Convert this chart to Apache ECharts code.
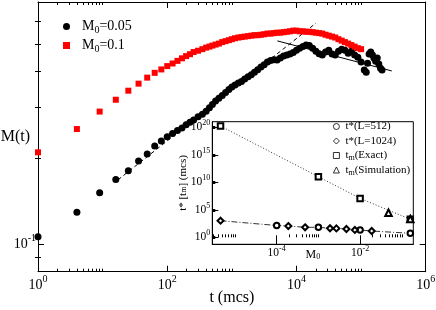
<!DOCTYPE html>
<html><head><meta charset="utf-8">
<script src="https://cdn.jsdelivr.net/npm/echarts@6.0.0/dist/echarts.min.js"></script>
<style>html,body{margin:0;padding:0;background:#fff}#c{width:436px;height:310px}</style>
</head><body><div id="c"></div>
<script>
// ---------- main plot data ----------
const t_M005 = [1,4,9,16,25,36,49,64,81,100,121,144,169,196,225,256,300,350,400,450,500,560,630,710,800,900,1000,1120,1260,1410,1580,1780,2000,2240,2510,2820,3160,3550,3980,4470,5010,5620,6310,7080,7940,8910,10000,11200,12600,14100,15800,17800,20000,22400,25100,28200,31600,35500,39800,44700,50100,56200,63100,70800,79400,89100,100000,112000,120000,126000,133000,141000,150000,158000,168000,178000,188000,200000,211000];
const M_M005 = [0.106,0.129,0.151,0.168,0.180,0.195,0.206,0.220,0.229,0.237,0.243,0.249,0.254,0.261,0.266,0.271,0.278,0.284,0.291,0.299,0.307,0.316,0.323,0.330,0.338,0.346,0.353,0.359,0.365,0.369,0.377,0.384,0.390,0.398,0.406,0.415,0.423,0.432,0.437,0.440,0.439,0.446,0.453,0.457,0.461,0.466,0.475,0.483,0.489,0.495,0.493,0.483,0.471,0.462,0.457,0.468,0.475,0.461,0.457,0.471,0.479,0.475,0.464,0.471,0.457,0.449,0.432,0.405,0.398,0.428,0.461,0.468,0.457,0.446,0.435,0.446,0.425,0.411,0.405];
const t_M01 = [1,4,9,16,25,36,49,64,81,100,121,144,169,196,225,256,300,350,400,450,500,560,630,710,800,900,1000,1120,1260,1410,1580,1780,2000,2240,2510,2820,3160,3550,3980,4470,5010,5620,6310,7080,7940,8910,10000,11200,12600,14100,15800,17800,20000,22400,25100,28200,31600,35500,39800,44700,50100,56200,63100,70800,79400,89100,100000];
const M_M01 = [0.209,0.252,0.290,0.319,0.343,0.363,0.381,0.396,0.407,0.418,0.427,0.436,0.445,0.453,0.460,0.468,0.473,0.479,0.485,0.489,0.493,0.497,0.501,0.507,0.511,0.515,0.519,0.523,0.526,0.528,0.530,0.532,0.534,0.536,0.536,0.538,0.540,0.543,0.543,0.545,0.547,0.547,0.549,0.551,0.553,0.556,0.556,0.553,0.553,0.551,0.551,0.549,0.547,0.545,0.543,0.538,0.534,0.530,0.526,0.519,0.513,0.507,0.501,0.495,0.489,0.483,0.479];
const fitDashT = [17.3, 20100];
const fitDashM = [0.1675, 0.591];
const fitSolidT = [5060, 298600];
const fitSolidM = [0.512, 0.402];

// ---------- inset data ----------
const M0_star512 = [1e-4, 1e-3, 1e-2, 0.16];
const t_star512 = [141, 66, 21, 5.4];
const M0_star1024 = [4.5e-6, 1.9e-4, 4.8e-4, 1.9e-3, 2.7e-3, 4.7e-3, 7.5e-3, 0.019];
const t_star1024 = [1050, 112, 66, 44, 42, 32, 22, 14];
const M0_exact = [4.5e-6, 1e-3, 1e-2, 0.16];
const t_exact = [1.7e20, 1.05e11, 1.2e7, 1.9e3];
const M0_sim = [0.048, 0.16];
const t_sim = [3.0e4, 2.1e3];

// ---------- ticks / labels (decade exponents) ----------
const mainXMajorExp = [0, 2, 4, 6];
const mainXMinorBaseExp = [0, 2, 4];
const mainYMajorExp = [-1];
const mainYMinorVals = [0.09, 0.2, 0.3, 0.4, 0.5, 0.6];
const insetXMajorExp = [-4, -2];
const insetXMinorBaseExp = [-6, -4, -2];
const insetYMajorExp = [0, 5, 10, 15, 20];
const minorMult = [2, 3, 4, 5, 6, 7, 8, 9, 10];

const L = Math.log10;
const pts = (xs, ys) => xs.map((x, i) => [L(x), L(ys[i])]);
const SERIF = "'Liberation Serif', 'DejaVu Serif', serif";
const BLACK = '#000';

const X0 = [0, 6], Y0 = [L(0.08), L(0.7)];
const XI = [-5.544, -0.724], YI = [-1.27, 21.02];

function minorTicks(bases, lo, hi) {
  const out = [];
  bases.forEach(b => minorMult.forEach(k => { const v = b + L(k); if (v > lo && v < hi) out.push(v); }));
  return out;
}
function powLabel(v) { return '{b|10}{s|' + Math.round(v) + '}'; }
const richMain = {
  b: {fontFamily: SERIF, fontSize: 14, lineHeight: 22, color: BLACK},
  s: {fontFamily: SERIF, fontSize: 10, lineHeight: 10, verticalAlign: 'top', color: BLACK}
};
const richInset = {
  b: {fontFamily: SERIF, fontSize: 11.5, lineHeight: 16, color: BLACK},
  s: {fontFamily: SERIF, fontSize: 8, lineHeight: 8, verticalAlign: 'top', color: BLACK}
};
function axis(o) {
  return Object.assign({
    type: 'value',
    splitLine: {show: false},
    axisLine: {show: true, onZero: false, lineStyle: {color: BLACK, width: 1}},
    axisTick: {show: false},
    axisLabel: {show: false},
    nameMoveOverlap: false
  }, o);
}
function ticks(vals, len, width) {
  return {show: true, inside: true, length: len, customValues: vals, lineStyle: {color: BLACK, width: width || 1}};
}
const mainXMinor = minorTicks(mainXMinorBaseExp, X0[0], X0[1]);
const mainYMinor = mainYMinorVals.map(L);
const insetXMinor = minorTicks(insetXMinorBaseExp, XI[0], XI[1]);

// combined t* points for the dash-dot guide line
const starAll = M0_star1024.map((m, i) => [m, t_star1024[i]])
  .concat(M0_star512.map((m, i) => [m, t_star512[i]]))
  .sort((a, b) => a[0] - b[0]);

const subName = n => n.replace(/^([Mt])([0m])/, '$1{sub|$2}');
const emptyIcon = (name, icon) => ({name: name, icon: icon,
  itemStyle: {color: '#fff', borderColor: BLACK, borderWidth: 0.8}});
const insetMark = {color: BLACK, borderColor: BLACK, borderWidth: 0.8, opacity: 1};

const chart = echarts.init(document.getElementById('c'), null, {renderer: 'canvas'});
chart.setOption({
  animation: false,
  backgroundColor: '#fff',
  grid: [
    {left: 38, top: 2, width: 387.7, height: 269.7, show: false, outerBoundsMode: 'none', containLabel: false},
    {left: 212.3, top: 121.7, width: 201, height: 122.6, show: true, backgroundColor: '#fff', borderColor: BLACK, borderWidth: 1, outerBoundsMode: 'none', containLabel: false, z: 5}
  ],
  legend: [
    {
      data: [{name: 'M0=0.05', icon: 'circle'}, {name: 'M0=0.1', icon: 'rect'}], orient: 'vertical', left: 58, top: 13,
      itemWidth: 7, itemHeight: 7, itemGap: 2, selectedMode: false,
      formatter: subName,
      textStyle: {fontFamily: SERIF, fontSize: 14, lineHeight: 17, color: BLACK, padding: [0, 0, 0, 7],
        rich: {sub: {fontFamily: SERIF, fontSize: 10, lineHeight: 10, verticalAlign: 'bottom', color: BLACK}}}
    },
    {
      data: [emptyIcon('t*(L=512)', 'circle'), emptyIcon('t*(L=1024)', 'diamond'),
             emptyIcon('tm(Exact)', 'rect'), emptyIcon('tm(Simulation)', 'triangle')],
      orient: 'vertical', left: 328, top: 115,
      itemWidth: 6, itemHeight: 6, itemGap: 1.5, selectedMode: false, z: 10,
      formatter: subName,
      textStyle: {fontFamily: SERIF, fontSize: 11, lineHeight: 13, color: BLACK, padding: [0, 0, 0, 1],
        rich: {sub: {fontFamily: SERIF, fontSize: 8, lineHeight: 8, verticalAlign: 'bottom', color: BLACK}}}
    }
  ],
  xAxis: [
    axis({gridIndex: 0, position: 'bottom', min: X0[0], max: X0[1], axisTick: ticks(mainXMajorExp, 6),
      axisLabel: {show: true, customValues: mainXMajorExp, formatter: powLabel, rich: richMain, margin: 3},
      name: 't (mcs)', nameLocation: 'middle', nameGap: 18,
      nameTextStyle: {fontFamily: SERIF, fontSize: 16, color: BLACK}}),
    axis({gridIndex: 0, position: 'bottom', min: X0[0], max: X0[1], axisLine: {show: false}, axisTick: ticks(mainXMinor, 3)}),
    axis({gridIndex: 0, position: 'top', min: X0[0], max: X0[1], axisTick: ticks(mainXMajorExp, 6)}),
    axis({gridIndex: 0, position: 'top', min: X0[0], max: X0[1], axisLine: {show: false}, axisTick: ticks(mainXMinor, 3)}),
    axis({gridIndex: 1, position: 'bottom', min: XI[0], max: XI[1], axisTick: ticks(insetXMajorExp, 9), z: 6,
      axisLabel: {show: true, customValues: insetXMajorExp, formatter: powLabel, rich: richInset, margin: 1},
      name: 'M{sub|0}', nameLocation: 'middle', nameGap: 5,
      nameTextStyle: {fontFamily: SERIF, fontSize: 12, color: BLACK,
        rich: {sub: {fontFamily: SERIF, fontSize: 8, lineHeight: 8, verticalAlign: 'bottom', color: BLACK}}}}),
    axis({gridIndex: 1, position: 'bottom', min: XI[0], max: XI[1], axisLine: {show: false}, axisTick: ticks(insetXMinor, 3), z: 6})
  ],
  yAxis: [
    axis({gridIndex: 0, position: 'left', min: Y0[0], max: Y0[1], axisTick: ticks(mainYMajorExp, 6),
      axisLabel: {show: true, customValues: mainYMajorExp, formatter: powLabel, rich: richMain, margin: 2},
      name: 'M(t)', nameLocation: 'middle', nameRotate: 0, nameGap: 8,
      nameTextStyle: {fontFamily: SERIF, fontSize: 16, color: BLACK}}),
    axis({gridIndex: 0, position: 'left', min: Y0[0], max: Y0[1], axisLine: {show: false}, axisTick: ticks(mainYMinor, 3)}),
    axis({gridIndex: 0, position: 'right', min: Y0[0], max: Y0[1], axisTick: ticks(mainYMajorExp, 6)}),
    axis({gridIndex: 0, position: 'right', min: Y0[0], max: Y0[1], axisLine: {show: false}, axisTick: ticks(mainYMinor, 3)}),
    axis({gridIndex: 1, position: 'left', min: YI[0], max: YI[1], axisTick: ticks(insetYMajorExp, 3, 3), z: 6,
      axisLabel: {show: true, customValues: insetYMajorExp, formatter: powLabel, rich: richInset, margin: 2},
      name: 't* [t{sub|m}] (mcs)', nameLocation: 'middle', nameRotate: 90, nameGap: 24,
      nameTextStyle: {fontFamily: SERIF, fontSize: 11, color: BLACK,
        rich: {sub: {fontFamily: SERIF, fontSize: 8, lineHeight: 8, verticalAlign: 'bottom', color: BLACK}}}}),
    axis({gridIndex: 1, position: 'left', min: YI[0], max: YI[1], axisLine: {show: false}, axisTick: ticks(insetYMajorExp, 6, 1), z: 6})
  ],
  series: [
    {type: 'line', xAxisIndex: 0, yAxisIndex: 0, data: pts(fitDashT, fitDashM), symbol: 'none', z: 2,
      lineStyle: {color: BLACK, width: 1, type: [4, 3]}},
    {type: 'line', xAxisIndex: 0, yAxisIndex: 0, data: pts(fitSolidT, fitSolidM), symbol: 'none', z: 2,
      lineStyle: {color: BLACK, width: 1}},
    {type: 'scatter', name: 'M0=0.05', xAxisIndex: 0, yAxisIndex: 0, data: pts(t_M005, M_M005),
      symbol: 'circle', symbolSize: 7, itemStyle: {color: BLACK, opacity: 1}, z: 3},
    {type: 'scatter', name: 'M0=0.1', xAxisIndex: 0, yAxisIndex: 0, data: pts(t_M01, M_M01),
      symbol: 'rect', symbolSize: 6, itemStyle: {color: '#ff0000', opacity: 1}, z: 3},
    {type: 'line', xAxisIndex: 4, yAxisIndex: 4, data: pts(M0_exact, t_exact), symbol: 'none', z: 6,
      lineStyle: {color: '#333', width: 1, type: [1, 2]}},
    {type: 'line', xAxisIndex: 4, yAxisIndex: 4, data: starAll.map(p => [L(p[0]), L(p[1])]), symbol: 'none', z: 6,
      lineStyle: {color: '#333', width: 1, type: [6, 2, 1, 2]}},
    {type: 'scatter', name: 't*(L=512)', xAxisIndex: 4, yAxisIndex: 4, data: pts(M0_star512, t_star512),
      symbol: 'emptyCircle', symbolSize: 5.5, itemStyle: insetMark, z: 7},
    {type: 'scatter', name: 't*(L=1024)', xAxisIndex: 4, yAxisIndex: 4, data: pts(M0_star1024, t_star1024),
      symbol: 'emptyDiamond', symbolSize: 6, itemStyle: insetMark, z: 7},
    {type: 'scatter', name: 'tm(Exact)', xAxisIndex: 4, yAxisIndex: 4, data: pts(M0_exact, t_exact),
      symbol: 'emptyRect', symbolSize: 5.5, itemStyle: insetMark, z: 7},
    {type: 'scatter', name: 'tm(Simulation)', xAxisIndex: 4, yAxisIndex: 4, data: pts(M0_sim, t_sim),
      symbol: 'emptyTriangle', symbolSize: 6.5, itemStyle: insetMark, z: 7}
  ]
});
</script></body></html>
